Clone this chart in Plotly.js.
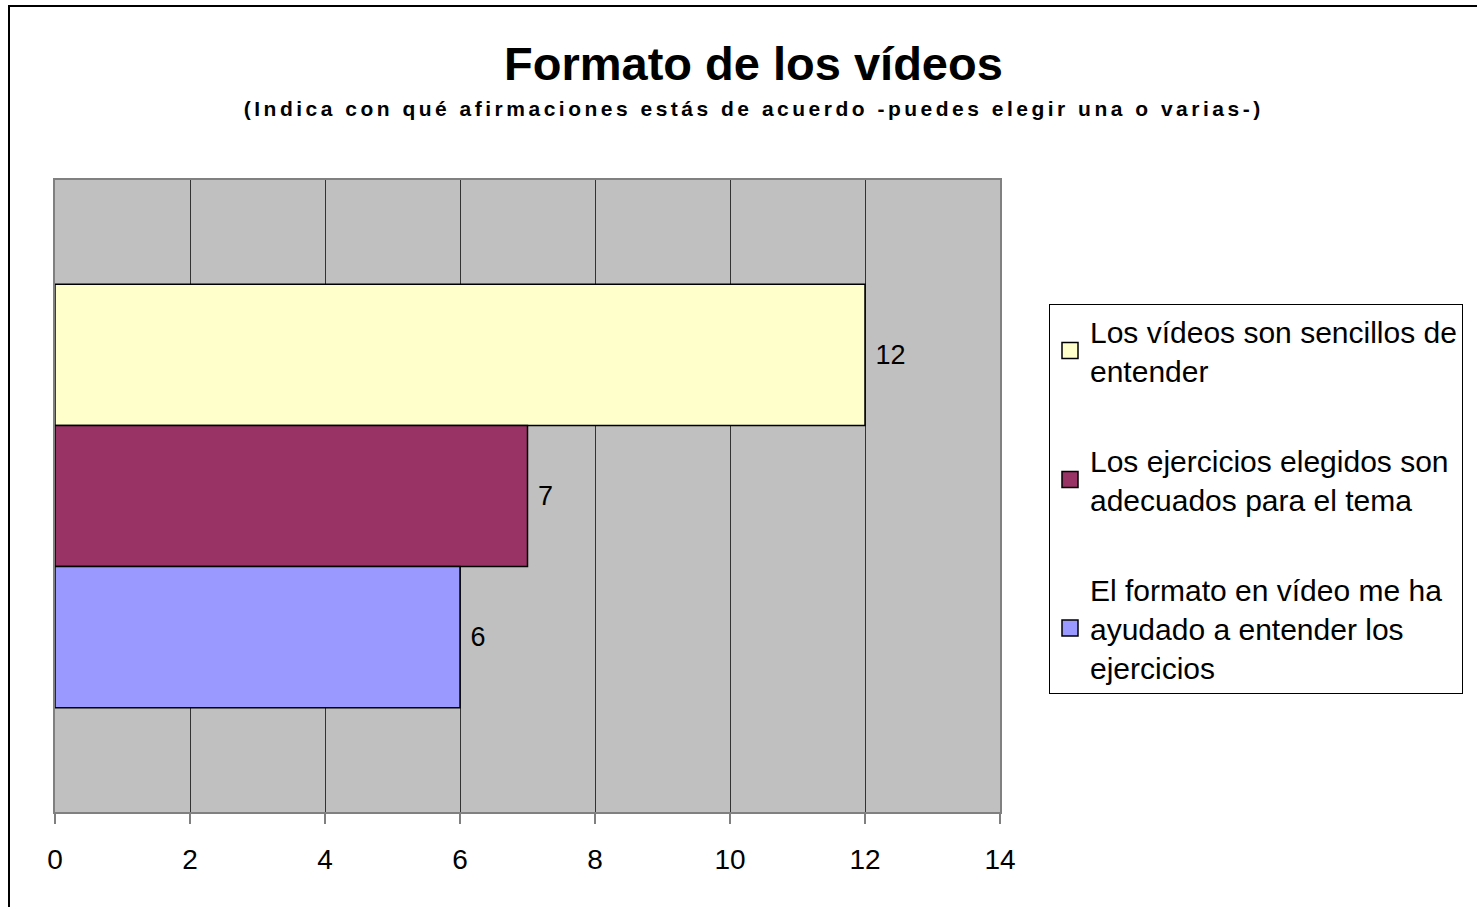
<!DOCTYPE html>
<html>
<head>
<meta charset="utf-8">
<script src="https://cdn.plot.ly/plotly-3.0.1.min.js"></script>
<style>
html,body{margin:0;padding:0;background:#fff;}
#chart{width:1477px;height:907px;}
#chart .subtitle-ann .annotation-text{letter-spacing:3.5px;}
</style>
</head>
<body>
<div id="chart"></div>
<script>
const category = [""];
const seriesNames = [
  "Los vídeos son sencillos de<br>entender",
  "Los ejercicios elegidos son<br>adecuados para el tema",
  "El formato en vídeo me ha<br>ayudado a entender los<br>ejercicios"
];
const seriesValues = [12, 7, 6];
const seriesColors = ["#FFFFCC", "#993366", "#9999FF"];
const xTicks = [0, 2, 4, 6, 8, 10, 12, 14];

const FONT = "Liberation Sans, Arial, sans-serif";

const traces = seriesNames.map((name, i) => ({
  type: "bar",
  orientation: "h",
  name: name,
  y: category,
  x: [seriesValues[i]],
  legendgroup: "g" + i,
  marker: {color: seriesColors[i], line: {color: "#000", width: 1.5}},
  text: [String(seriesValues[i])],
  texttemplate: "\u00a0%{text}",
  textposition: "outside",
  cliponaxis: false,
  textfont: {family: FONT, size: 27, color: "#000"},
  hoverinfo: "x+name"
}));

const L = 55, R = 1000, T = 180, B = 812, W = 1477, H = 907;
const pw = R - L, ph = B - T;
const px = v => (v - L) / pw;
const py = v => (B - v) / ph;

const layout = {
  width: W, height: H,
  margin: {l: L, r: W - R, t: T, b: H - B, pad: 0},
  paper_bgcolor: "#fff",
  plot_bgcolor: "#C0C0C0",
  barmode: "group",
  bargap: 0.33,
  bargroupgap: 0,
  showlegend: true,
  font: {family: FONT, color: "#000"},
  xaxis: {
    range: [0, 14],
    tickvals: xTicks,
    ticktext: xTicks.map(String),
    tickfont: {family: FONT, size: 28, color: "#000"},
    ticks: "outside", ticklen: 10, tickcolor: "#808080", tickwidth: 1.5,
    ticklabelstandoff: 11,
    showgrid: true, gridcolor: "#333", gridwidth: 1,
    showline: true, linecolor: "#808080", linewidth: 2, mirror: true,
    zeroline: false, fixedrange: true
  },
  yaxis: {
    type: "category",
    autorange: "reversed",
    showticklabels: false,
    ticks: "",
    showgrid: false, zeroline: false,
    showline: true, linecolor: "#808080", linewidth: 2, mirror: true,
    fixedrange: true
  },
  legend: {
    xref: "container", yref: "container",
    x: 1049 / W, y: 1 - 304 / H, xanchor: "left", yanchor: "top",
    bgcolor: "#fff", bordercolor: "#000", borderwidth: 1,
    font: {family: FONT, size: 30, color: "#000"},
    tracegroupgap: 48,
    traceorder: "grouped",
    itemclick: false, itemdoubleclick: false
  },
  annotations: [
    {xref: "paper", yref: "paper", x: px(753), y: py(64), xanchor: "center", yanchor: "middle",
     text: "<b>Formato de los vídeos</b>", showarrow: false,
     font: {family: FONT, size: 47, color: "#000"}},
    {xref: "paper", yref: "paper", x: px(753), y: py(108), xanchor: "center", yanchor: "middle",
     text: "<b>(Indica con qué afirmaciones estás de acuerdo -puedes elegir una o varias-)</b>", showarrow: false,
     font: {family: FONT, size: 21, color: "#000"}}
  ],
  shapes: [
    {type: "rect", xref: "paper", yref: "paper", x0: px(9), x1: px(1500), y0: py(6), y1: py(930),
     line: {color: "#000", width: 2}, fillcolor: "rgba(0,0,0,0)", layer: "below"}
  ]
};

Plotly.newPlot("chart", traces, layout, {displayModeBar: false, staticPlot: true}).then(gd => {
  const anns = gd.querySelectorAll(".annotation");
  if (anns[1]) anns[1].classList.add("subtitle-ann");
  // enlarge legend swatches to match the reference
  gd.querySelectorAll(".legendpoints path.legendundefined, .legendpoints .legendbar path, .legendpoints path").forEach(p => {
    const d = p.getAttribute("d");
    if (d && /^M6,6H-6V-6H6Z$/.test(d)) p.setAttribute("d", "M8,8H-8V-8H8Z");
  });
});
</script>
</body>
</html>
